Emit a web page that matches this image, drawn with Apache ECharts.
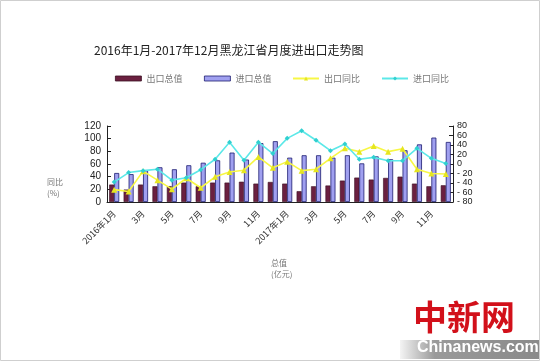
<!DOCTYPE html>
<html><head><meta charset="utf-8">
<script src="https://cdn.jsdelivr.net/npm/echarts@6/dist/echarts.min.js"></script>
<style>html,body{margin:0;padding:0;background:#fff}#c{width:540px;height:361px}</style>
</head><body><div id="c"></div>
<script>
const categories = ['2016年1月','2月','3月','4月','5月','6月','7月','8月','9月','10月','11月','12月',
  '2017年1月','2月','3月','4月','5月','6月','7月','8月','9月','10月','11月','12月'];
const exportTotal = [27.5,19.6,27.5,24.8,25,30.6,24.8,30.6,30.6,32,29,31.6,29,17,24.8,26,33.8,38.5,35.4,38,40,29,24.8,26.4];
const importTotal = [45.8,44,50,54.8,51.7,58,62,65.8,78,67,93,96,70,73.8,73.8,70,73.8,61,72,67.5,81.7,91,101.7,94.8];
const exportYoY = [-54,-58,-15,-34,-53,-30,-50,-27,-17,-13,15,-8,5,-14,-11,12,33,26,38,26,32,-11,-20,-21];
const importYoY = [-38,-18,-14,-11,-34,-29,-12,10,46,8,46,22,54,70,50,28,42,10,14,7,7,33,12,1];
const seriesNames = ['出口总值','进口总值','出口同比','进口同比'];
const titleText = '2016年1月-2017年12月黑龙江省月度进出口走势图';

const chart = echarts.init(document.getElementById('c'), null, {renderer:'canvas'});
const axisFont = {fontFamily:'Liberation Sans, Arial', fontSize:10, color:'#222'};
const legendLefts = [110,199,287,376];
const legends = seriesNames.map((n,i)=>({
  left:legendLefts[i],top:69,itemWidth:26,itemHeight:5,itemGap:5,
  textStyle:{fontFamily:'Noto Sans CJK SC',fontSize:9,color:'#777'},
  data:[i<2?{name:n,icon:'rect',itemStyle:{borderWidth:0.8}}:{name:n}]
}));
chart.setOption({
  animation:false,
  backgroundColor:'#fff',
  title:{text:titleText,left:89,top:39,textStyle:{fontFamily:'Noto Sans CJK SC',fontSize:12,fontWeight:'normal',color:'#222'}},
  legend:legends,
  grid:{left:107,right:87,top:126,bottom:159},
  xAxis:{type:'category',data:categories,
    axisLine:{lineStyle:{color:'#222',width:1}},
    axisTick:{inside:true,length:3,lineStyle:{color:'#444'}},
    axisLabel:{interval:1,rotate:45,margin:10,fontFamily:'Noto Sans CJK SC',fontSize:9,color:'#333'}},
  yAxis:[
    {type:'value',min:0,max:120,interval:20,splitLine:{show:false},
      axisLine:{show:true,lineStyle:{color:'#222'}},
      axisTick:{show:true,inside:true,length:4,lineStyle:{color:'#222'}},
      axisLabel:Object.assign({margin:6,showMinLabel:true,showMaxLabel:true},axisFont)},
    {type:'value',min:-80,max:80,interval:20,splitLine:{show:false},position:'right',
      axisLine:{show:true,lineStyle:{color:'#222'}},
      axisTick:{show:true,inside:true,length:4,lineStyle:{color:'#222'}},
      axisLabel:{margin:4,showMinLabel:true,showMaxLabel:true,hideOverlap:false,
        fontFamily:'Liberation Sans, Arial',fontSize:9,lineHeight:8,padding:0,color:'#222',
        formatter:v=>v<0?'- '+(-v):String(v)}}
  ],
  series:[
    {name:seriesNames[0],type:'bar',data:exportTotal,barWidth:5,barGap:'0%',
      itemStyle:{color:'#6b2040',borderColor:'#3a0f22',borderWidth:0.6}},
    {name:seriesNames[1],type:'bar',data:importTotal,barWidth:5,
      itemStyle:{color:'#a0a0f0',borderColor:'#1c1c70',borderWidth:0.8}},
    {name:seriesNames[2],type:'line',yAxisIndex:1,data:exportYoY,symbol:'triangle',symbolSize:6,
      lineStyle:{color:'#f7f745',width:1.6},itemStyle:{color:'#e6e620'}},
    {name:seriesNames[3],type:'line',yAxisIndex:1,data:importYoY,symbol:'diamond',symbolSize:5,
      lineStyle:{color:'#5ce8e8',width:1.6},itemStyle:{color:'#30d0d0'}}
  ],
  graphic:[
    {type:'rect',shape:{x:0.5,y:0.5,width:539,height:360},style:{fill:'none',stroke:'#cfcfcf',lineWidth:1},silent:true},
    {type:'text',left:47,top:176,style:{text:'同比\n(%)',fontFamily:'Noto Sans CJK SC',fontSize:8,fill:'#777',align:'center',lineHeight:11}},
    {type:'text',left:271,top:257,style:{text:'总值\n(亿元)',fontFamily:'Noto Sans CJK SC',fontSize:8,fill:'#777',align:'center',lineHeight:11}},
    {type:'rect',shape:{x:400,y:340,width:139,height:19},
      style:{fill:new echarts.graphic.LinearGradient(0,0,1,0,[{offset:0,color:'#f4f4f4'},{offset:0.25,color:'#9a9a9a'},{offset:1,color:'#8a8a8a'}])},silent:true},
    {type:'text',x:417,y:340,style:{text:'Chinanews.com',fontFamily:'Liberation Sans Narrow, Liberation Sans',fontWeight:'bold',fontSize:16,fill:'#fff'}},
    {type:'text',x:413,y:300,style:{text:'中新网',fontFamily:'Noto Sans CJK SC',fontWeight:'bold',fontSize:34,fill:'#d2101a'}}
  ]
});
</script></body></html>
